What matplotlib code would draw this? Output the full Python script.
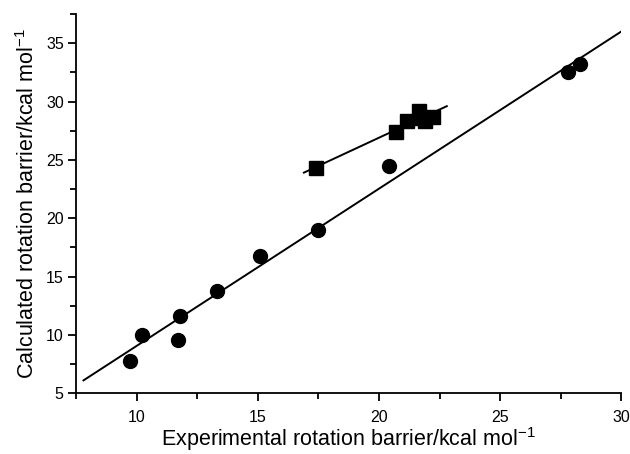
import matplotlib
matplotlib.use("Agg")
import matplotlib.pyplot as plt
import numpy as np
from matplotlib.ticker import MultipleLocator

plt.rcParams['font.family'] = ['Liberation Sans', 'DejaVu Sans']
plt.rcParams['mathtext.fontset'] = 'custom'
plt.rcParams['mathtext.rm'] = 'Liberation Sans'
plt.rcParams['mathtext.default'] = 'regular'

# Circles (series 1)
circ_x = [9.7, 10.2, 11.7, 11.8, 13.3, 15.1, 17.5, 20.4, 27.8, 28.3]
circ_y = [7.8, 10.0, 9.6, 11.6, 13.8, 16.8, 19.0, 24.5, 32.5, 33.2]
# Squares (series 2)
sq_x = [17.4, 20.7, 21.15, 21.65, 21.7, 21.9, 22.25]
sq_y = [24.3, 27.4, 28.3, 29.15, 28.6, 28.35, 28.7]
# Fit lines (slope, intercept, x-range)
fit1_slope, fit1_intercept, fit1_range = 1.347, -4.41, [7.8, 30.0]
fit2_slope, fit2_intercept, fit2_range = 0.966, 7.58, [16.9, 22.8]

fig = plt.figure(figsize=(6.3, 4.54), dpi=100)
ax = fig.add_axes([0.121, 0.134, 0.865, 0.835])

x1 = np.array(fit1_range)
ax.plot(x1, fit1_slope * x1 + fit1_intercept, color='black', lw=1.4)
x2 = np.array(fit2_range)
ax.plot(x2, fit2_slope * x2 + fit2_intercept, color='black', lw=1.4)

ax.plot(circ_x, circ_y, 'o', color='black', markersize=10, zorder=3)
ax.plot(sq_x, sq_y, 's', color='black', markersize=9.5, zorder=3)

ax.set_xlim(7.5, 30)
ax.set_ylim(5, 37.5)
ax.xaxis.set_minor_locator(MultipleLocator(2.5))
ax.yaxis.set_major_locator(MultipleLocator(5))
ax.yaxis.set_minor_locator(MultipleLocator(2.5))
ax.set_xticks([10, 15, 20, 25, 30])

for s in ['top', 'right']:
    ax.spines[s].set_visible(False)
for s in ['left', 'bottom']:
    ax.spines[s].set_linewidth(1.3)

ax.tick_params(which='major', direction='out', length=6, width=1.3, labelsize=11.5)
ax.tick_params(which='minor', direction='out', length=4, width=1.3)
ax.tick_params(axis='x', pad=6)
ax.tick_params(axis='y', pad=3)

ax.set_xlabel('Experimental rotation barrier/kcal mol$^{-1}$', fontsize=15.5, labelpad=0)
ax.set_ylabel('Calculated rotation barrier/kcal mol$^{-1}$', fontsize=15.5, labelpad=5)

fig.savefig('out.png', dpi=100)
